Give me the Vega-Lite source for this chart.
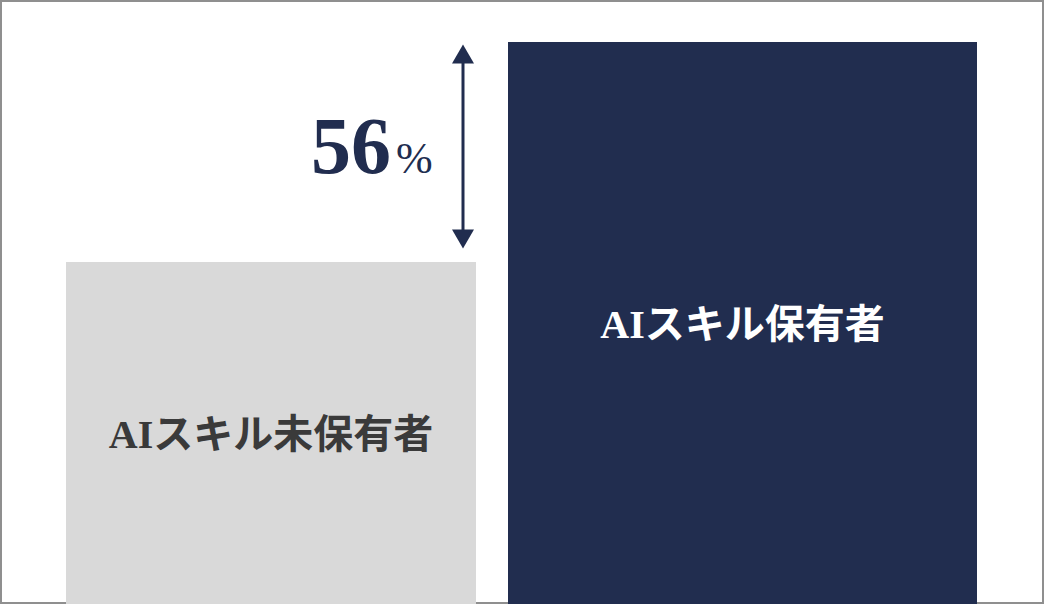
{
  "$schema": "https://vega.github.io/schema/vega-lite/v6.json",
  "autosize": {"type": "fit", "contains": "padding"},
  "width": 1044,
  "height": 604,
  "padding": 0,
  "background": "white",
  "config": {
    "view": {"stroke": "#8f8f8f", "strokeWidth": 4},
    "axis": {"disable": true}
  },
  "datasets": {
    "bars": [
      {"group": "AIスキル未保有者", "start": 66, "end": 476, "value": 342},
      {"group": "AIスキル保有者", "start": 508, "end": 977, "value": 562}
    ],
    "gap": [
      {"label": "56", "unit": "%", "x": 463, "top": 553, "bottom": 362}
    ]
  },
  "resolve": {"scale": {"color": "independent"}},
  "layer": [
    {
      "data": {"name": "bars"},
      "mark": {"type": "bar"},
      "encoding": {
        "x": {"field": "start", "type": "quantitative", "scale": {"domain": [0, 1044], "nice": false, "zero": false}},
        "x2": {"field": "end"},
        "y": {"field": "value", "type": "quantitative", "scale": {"domain": [0, 604], "nice": false}},
        "y2": {"datum": 0},
        "color": {
          "field": "group", "type": "nominal", "legend": null,
          "scale": {"domain": ["AIスキル未保有者", "AIスキル保有者"], "range": ["#d9d9d9", "#212d4f"]}
        }
      }
    },
    {
      "data": {"name": "bars"},
      "transform": [
        {"calculate": "(datum.start + datum.end) / 2", "as": "center"},
        {"calculate": "datum.value / 2", "as": "middle"},
        {"calculate": "datum.value > 400 ? '#ffffff' : '#3a3a3a'", "as": "ink"}
      ],
      "mark": {"type": "text", "font": "Liberation Serif, Noto Sans CJK JP", "fontWeight": "bold", "fontSize": 40, "baseline": "middle", "align": "center", "dy": 3},
      "encoding": {
        "x": {"field": "center", "type": "quantitative"},
        "y": {"field": "middle", "type": "quantitative"},
        "text": {"field": "group"},
        "color": {"field": "ink", "type": "nominal", "scale": null, "legend": null}
      }
    },
    {
      "data": {"name": "gap"},
      "mark": {"type": "rule", "color": "#212d4f", "strokeWidth": 3},
      "encoding": {
        "x": {"field": "x", "type": "quantitative"},
        "y": {"field": "top", "type": "quantitative"},
        "y2": {"field": "bottom"}
      }
    },
    {
      "data": {"name": "gap"},
      "mark": {"type": "point", "shape": "triangle-up", "filled": true, "size": 484, "color": "#212d4f", "opacity": 1, "yOffset": 3},
      "encoding": {
        "x": {"field": "x", "type": "quantitative"},
        "y": {"field": "top", "type": "quantitative"}
      }
    },
    {
      "data": {"name": "gap"},
      "mark": {"type": "point", "shape": "triangle-down", "filled": true, "size": 484, "color": "#212d4f", "opacity": 1, "yOffset": -3},
      "encoding": {
        "x": {"field": "x", "type": "quantitative"},
        "y": {"field": "bottom", "type": "quantitative"}
      }
    },
    {
      "data": {"name": "gap"},
      "mark": {"type": "text", "font": "Liberation Serif", "fontWeight": "bold", "fontSize": 80, "align": "right", "baseline": "alphabetic", "color": "#212d4f", "dx": -72, "yOffset": -69},
      "encoding": {
        "x": {"field": "x", "type": "quantitative"},
        "y": {"field": "bottom", "type": "quantitative"},
        "text": {"field": "label"}
      }
    },
    {
      "data": {"name": "gap"},
      "mark": {"type": "text", "font": "Liberation Serif", "fontWeight": "normal", "fontSize": 44, "align": "left", "baseline": "alphabetic", "color": "#212d4f", "dx": -67, "yOffset": -69},
      "encoding": {
        "x": {"field": "x", "type": "quantitative"},
        "y": {"field": "bottom", "type": "quantitative"},
        "text": {"field": "unit"}
      }
    }
  ]
}
